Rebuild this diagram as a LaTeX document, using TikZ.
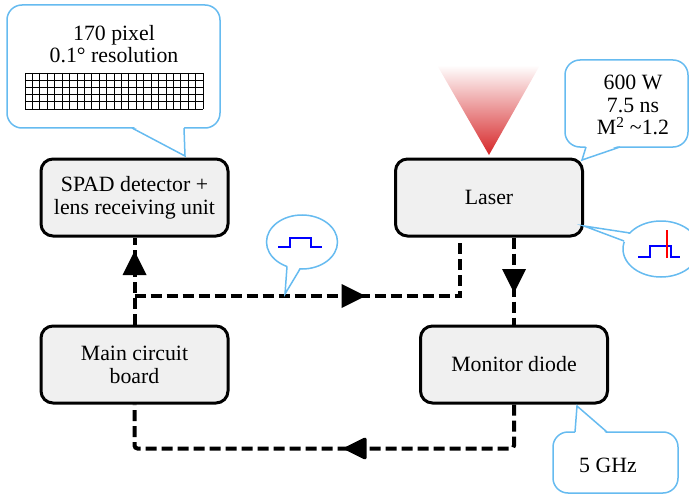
\documentclass[tikz,border=0pt]{standalone}
\usepackage{fontspec}
\setmainfont{Liberation Serif}
\usetikzlibrary{decorations.markings}

\definecolor{callblue}{RGB}{102,187,240}
\definecolor{boxfill}{RGB}{240,240,240}
\definecolor{beamred}{RGB}{214,38,40}
\definecolor{pulseblue}{RGB}{0,0,255}

\newcommand\labelfont{\fontsize{21.8pt}{22.8pt}\selectfont}

\tikzset{
  unitbox/.style={draw=black, line width=3pt, fill=boxfill, rounded corners=12pt,
    minimum width=187pt, minimum height=77pt, align=center, font=\labelfont, inner sep=0pt},
  txt/.style={align=center, font=\labelfont, inner sep=0pt},
  flow/.style={line width=4pt, dash pattern=on 11pt off 5pt},
  headat/.style={postaction={decorate}, decoration={markings,
    mark=at position #1 with {\fill[black] (-12pt,-12pt) -- (12pt,0pt) -- (-12pt,12pt) -- cycle;}}},
  callout/.style={draw=callblue, line width=1.5pt, line join=miter},
  pulse/.style={draw=pulseblue, line width=2.5pt},
  gridline/.style={draw=black, line width=0.8pt},
}

\begin{document}
\begin{tikzpicture}[x=1pt,y=-1pt]
\useasboundingbox (0,0) rectangle (689,495);

% laser beam
\shade[top color=white, bottom color=beamred] (437,65) -- (540,65) -- (489,155) -- cycle;

% units
\node[unitbox] (spad) at (134.5,197.5) {SPAD detector +\\lens receiving unit};
\node[unitbox] (laser) at (489,197.5) {Laser};
\node[unitbox] (main) at (134.5,364.5) {Main circuit\\board};
\node[unitbox] (monitor) at (514,364.5) {Monitor diode};

% signal paths
\coordinate (j) at (134.5,296);
\draw[flow, headat=61.5pt] (main.north) -- (spad.south);
\draw[flow, headat=219pt] (j) -| ([xshift=-29pt]laser.south);
\draw[flow, headat=43.5pt] ([xshift=25pt]laser.south) -- (monitor.north);
\draw[flow, rounded corners=3pt, headat=202pt] (monitor.south) -- ++(0,44) -| (main.south);

% detector callout
\draw[callout, fill=white, rounded corners=15pt] (7,5) rectangle (220,128);
\fill[white] (132,126) -- (185,156) -- (184,126) -- cycle;
\draw[callout] (132,128) -- (185,156) -- (184,128);
\node[txt] (pix) at (114,44) {170 pixel\\0.1° resolution};
\foreach \i in {0,...,24} \draw[gridline] (25+\i*7.42,73) -- (25+\i*7.42,109);
\foreach \j in {0,...,5} \draw[gridline] (25,73+\j*7.2) -- (203.1,73+\j*7.2);

% laser data callout
\draw[callout, fill=white, rounded corners=15pt] (565,60) rectangle (688,147);
\fill[white] (586,145) -- (582,160) -- (620,145) -- cycle;
\draw[callout] (586,147) -- (582,160) -- (620,147);
\node[txt] (spec) at (633,105) {600 W\\ 7.5 ns\\M\textsuperscript{2} \textasciitilde1.2};

% frequency callout
\draw[callout, fill=white, rounded corners=15pt] (553,432) rectangle (678,493);
\fill[white] (575,434) -- (577,406) -- (607,434) -- cycle;
\draw[callout] (575,432) -- (577,406) -- (607,432);
\node[txt] (freq) at (608,465) {5 GHz};

% trigger pulse callout
\draw[callout, fill=white] (302,242) ellipse [x radius=35.5, y radius=27];
\fill[white] (287.5,264.5) -- (285,294) -- (300,267) -- cycle;
\draw[callout] (287,266.5) -- (285,294) -- (300,269);
\draw[pulse] (278,247) -- (290,247) -- (290,238) -- (311,238) -- (311,247) -- (322,247);

% sampled pulse callout
\draw[callout, fill=white] (661,249) ellipse [x radius=38, y radius=28];
\fill[white] (632,234.5) -- (584,226) -- (626.5,242.5) -- cycle;
\draw[callout] (630,233) -- (584,226) -- (624,241);
\draw[pulse] (638,257) -- (650,257) -- (650,246) -- (671,246) -- (671,257) -- (680,257);
\draw[red, line width=1.5pt] (667,230) -- (667,258);
\end{tikzpicture}
\end{document}
